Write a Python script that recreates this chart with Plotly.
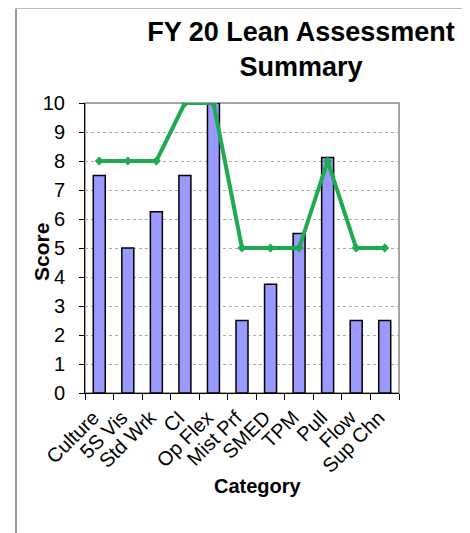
import plotly.graph_objects as go

categories = ["Culture", "5S Vis", "Std Wrk", "CI", "Op Flex", "Mist Prf", "SMED", "TPM", "Pull", "Flow", "Sup Chn"]
scores = [7.5, 5, 6.25, 7.5, 10, 2.5, 3.75, 5.5, 8.125, 2.5, 2.5]
targets = [8, 8, 8, 10, 10, 5, 5, 5, 8, 5, 5]
y_ticks = list(range(0, 11))

# page body adds an 8px margin; figure is sized/placed to compensate
OFF = 8
W, H = 470 - OFF, 533 - OFF
L, R, T, B = 85 - OFF, 470 - 399, 103 - OFF, 533 - 393
pw, ph = W - L - R, H - T - B

fig = go.Figure()
fig.add_trace(go.Bar(x=categories, y=scores, width=0.42,
                     marker=dict(color="#9999FF", line=dict(color="#000000", width=1.5)),
                     showlegend=False))
fig.add_trace(go.Scatter(x=categories, y=targets, mode="lines+markers",
                         line=dict(color="#1DAA50", width=4),
                         marker=dict(symbol="diamond", size=7, color="#1DAA50"),
                         showlegend=False))

def px2x(p):
    # screen x -> paper x
    return (p - OFF - L) / pw

def py2y(p):
    # screen y -> paper y
    return (H - B - (p - OFF)) / ph

fig.update_layout(
    width=W, height=H,
    margin=dict(l=L, r=R, t=T, b=B),
    paper_bgcolor="white", plot_bgcolor="white",
    font=dict(family="Arial, Liberation Sans, sans-serif", color="#000000"),
    title=dict(text="<b>FY 20 Lean Assessment<br>Summary</b>", x=(301 - OFF) / W, xanchor="center",
               y=1 - (41 - OFF) / H, yanchor="middle", font=dict(size=27)),
    xaxis=dict(type="category", tickangle=-45, tickfont=dict(size=20),
               showline=True, linecolor="#000000", linewidth=1,
               ticks="outside", tickson="boundaries", ticklen=6, tickcolor="#000000",
               ticklabelshift=-6, ticklabelstandoff=4,
               showgrid=False, mirror=False, range=[-0.5, 10.5]),
    yaxis=dict(range=[0, 10], tickvals=y_ticks, tickfont=dict(size=20),
               showline=True, linecolor="#000000", linewidth=1,
               ticks="outside", ticklen=5, tickcolor="#000000",
               ticklabelstandoff=10,
               showgrid=True, gridcolor="#AAAAAA", griddash="dot", gridwidth=1,
               zeroline=False),
)

# plot area border (top/right in gray)
fig.add_shape(type="rect", xref="paper", yref="paper", x0=0, y0=0, x1=1, y1=1,
              line=dict(color="#888888", width=1.5), layer="below")
# outer frame lines of the picture
fig.add_shape(type="line", xref="paper", yref="paper", x0=px2x(16), x1=px2x(16),
              y0=py2y(8.5), y1=py2y(540), line=dict(color="#333333", width=1))
fig.add_shape(type="line", xref="paper", yref="paper", x0=px2x(16), x1=px2x(480),
              y0=py2y(8.5), y1=py2y(8.5), line=dict(color="#BBBBBB", width=1))

fig.add_annotation(text="<b>Score</b>", xref="paper", yref="paper",
                   x=px2x(41), y=py2y(252), showarrow=False, textangle=-90,
                   font=dict(size=21), xanchor="center", yanchor="middle")
fig.add_annotation(text="<b>Category</b>", xref="paper", yref="paper",
                   x=px2x(258), y=py2y(486), showarrow=False,
                   font=dict(size=20), xanchor="center", yanchor="middle")

fig.write_html("out.html")
